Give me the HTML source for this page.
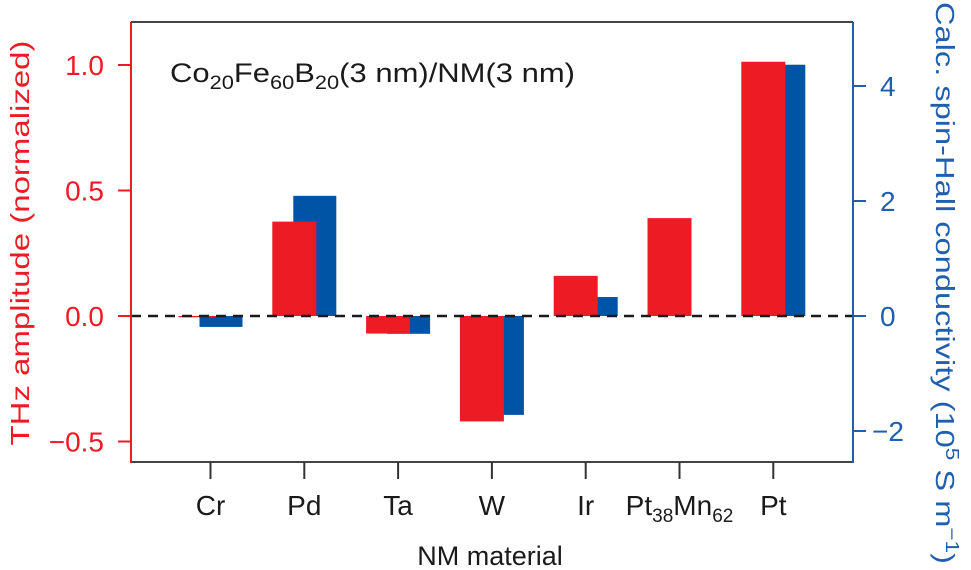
<!DOCTYPE html>
<html><head><meta charset="utf-8"><style>
html,body{margin:0;padding:0;background:#fff;}
svg{display:block;font-family:"Liberation Sans",sans-serif;}
</style></head><body>
<svg id="chart" width="971" height="570" viewBox="0 0 971 570" xmlns="http://www.w3.org/2000/svg">
<g id="bars"></g>
<line x1="131" y1="316" x2="853" y2="316" stroke="#1a1a1a" stroke-width="2.5" stroke-dasharray="10,7"/>
<line x1="131" y1="22" x2="853" y2="22" stroke="#444" stroke-width="2"/>
<line x1="131" y1="462" x2="853" y2="462" stroke="#444" stroke-width="2"/>
<line x1="131" y1="22" x2="131" y2="463" stroke="#ED1C24" stroke-width="2"/>
<line x1="853" y1="22" x2="853" y2="463" stroke="#1F5FAD" stroke-width="2"/>
<g id="axes"></g>
<text x="170" y="82" font-size="27" fill="#1a1a1a" textLength="405" lengthAdjust="spacingAndGlyphs">Co<tspan font-size="19" dy="7">20</tspan><tspan dy="-7">Fe</tspan><tspan font-size="19" dy="7">60</tspan><tspan dy="-7">B</tspan><tspan font-size="19" dy="7">20</tspan><tspan dy="-7">(3 nm)/NM(3 nm)</tspan></text>
<text x="490" y="565" font-size="27" fill="#1a1a1a" text-anchor="middle">NM material</text>
<text transform="translate(29,243) rotate(-90)" font-size="26" fill="#ED1C24" text-anchor="middle" textLength="405" lengthAdjust="spacingAndGlyphs">THz amplitude (normalized)</text>
<text transform="translate(936,283) rotate(90)" font-size="26" fill="#1F5FAD" text-anchor="middle" textLength="562" lengthAdjust="spacingAndGlyphs">Calc. spin-Hall conductivity (10<tspan font-size="18" dy="-10">5</tspan><tspan dy="10"> S m</tspan><tspan font-size="18" dy="-10">−1</tspan><tspan dy="10">)</tspan></text>
</svg>
<script>
const categories = ["Cr","Pd","Ta","W","Ir","Pt38Mn62","Pt"];
const thzValues = [-0.005, 0.376, -0.07, -0.42, 0.16, 0.39, 1.013];
const shcValues = [-0.19, 2.09, -0.31, -1.72, 0.33, 0, 4.37];
const leftTicks = [1.0, 0.5, 0.0, -0.5];
const leftTickLabels = ["1.0","0.5","0.0","−0.5"];
const rightTicks = [4, 2, 0, -2];
const rightTickLabels = ["4","2","0","−2"];

const NS = "http://www.w3.org/2000/svg";
const RED = "#ED1C24", BLUE = "#0054A6";
const yL = v => 316 - v * 251;
const yR = v => 316 - v * 57.5;
const xC = i => 210.5 + i * 93.8;
function mk(tag, attrs, parent) {
  const e = document.createElementNS(NS, tag);
  for (const k in attrs) e.setAttribute(k, attrs[k]);
  parent.appendChild(e);
  return e;
}
const bars = document.getElementById('bars');
const axes = document.getElementById('axes');
categories.forEach((c, i) => {
  const cx = xC(i);
  const vb = shcValues[i];
  const b = mk('rect', {x: cx - 11, y: Math.min(yR(vb), yR(0)), width: 43, height: Math.abs(yR(vb) - yR(0)), fill: BLUE}, bars);
  
  
  const vr = thzValues[i];
  const r = mk('rect', {x: cx - 32, y: Math.min(yL(vr), yL(0)), width: 44, height: Math.max(Math.abs(yL(vr) - yL(0)), 1.2), fill: RED}, bars);
  
  
  const t = mk('line', {x1: cx, y1: 462, x2: cx, y2: 479, stroke: '#333', 'stroke-width': 2}, axes);
  
  
  const lab = mk('text', {x: cx, y: 515, 'font-size': 28, fill: '#1a1a1a', 'text-anchor': 'middle'}, axes);
  
  
  const m = c.match(/^([A-Za-z]+)(\d+)([A-Za-z]+)(\d+)$/);
  if (m) {
    lab.innerHTML = m[1] + '<tspan font-size="19" dy="7">' + m[2] + '</tspan><tspan dy="-7">' + m[3] + '</tspan><tspan font-size="19" dy="7">' + m[4] + '</tspan>';
  } else lab.textContent = c;
});
leftTicks.forEach((v, i) => {
  const t = mk('line', {x1: 118, y1: yL(v), x2: 131, y2: yL(v), stroke: RED, 'stroke-width': 2}, axes);
  
  
  const l = mk('text', {x: 104, y: yL(v) + 10, 'font-size': 28, fill: RED, 'text-anchor': 'end'}, axes);
  
  
  l.textContent = leftTickLabels[i];
});
rightTicks.forEach((v, i) => {
  const t = mk('line', {x1: 853, y1: yR(v), x2: 866, y2: yR(v), stroke: '#1F5FAD', 'stroke-width': 2}, axes);
  
  
  const l = mk('text', {x: 880, y: yR(v) + 10, 'font-size': 28, fill: '#1F5FAD', 'text-anchor': v < 0 ? 'middle' : 'start'}, axes);
  if (v < 0) l.setAttribute('x', 888);
  
  
  l.textContent = rightTickLabels[i];
});
</script>
</body></html>
